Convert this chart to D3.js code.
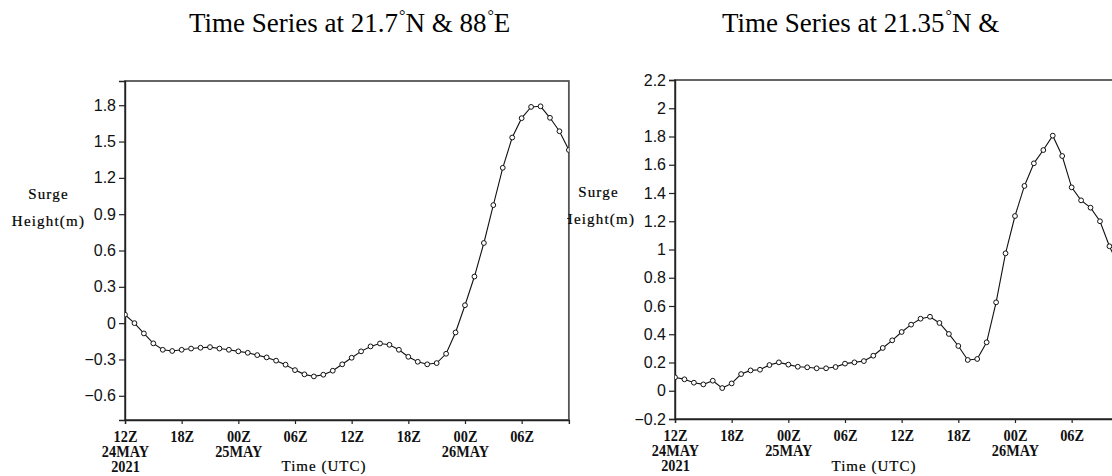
<!DOCTYPE html>
<html><head><meta charset="utf-8">
<script src="https://cdn.jsdelivr.net/npm/d3@7"></script>
<style>
body{margin:0;background:#fff;}
svg{display:block;}
</style></head>
<body>
<svg id="c" width="1112" height="476"></svg>
<script>
// ---- data ----
const hours = d3.range(0, 48);
const surgeA = [0.07,0.0,-0.085,-0.167,-0.22,-0.23,-0.22,-0.21,-0.203,-0.198,-0.21,-0.22,
  -0.233,-0.245,-0.264,-0.283,-0.31,-0.343,-0.388,-0.423,-0.44,-0.426,-0.393,-0.34,
  -0.286,-0.233,-0.192,-0.168,-0.179,-0.22,-0.278,-0.319,-0.34,-0.33,-0.253,-0.077,
  0.148,0.385,0.662,0.975,1.283,1.533,1.693,1.786,1.791,1.696,1.585,1.43];
const surgeB = [0.095,0.081,0.057,0.045,0.071,0.019,0.052,0.118,0.144,0.149,0.182,0.201,
  0.185,0.17,0.166,0.159,0.159,0.168,0.192,0.201,0.21,0.248,0.303,0.357,
  0.416,0.468,0.51,0.524,0.48,0.402,0.317,0.218,0.225,0.343,0.626,0.973,
  1.237,1.45,1.61,1.704,1.806,1.662,1.44,1.348,1.296,1.2,1.023,0.88];
const titles = ["Time Series at 21.7|°|N & 88|°|E", "Time Series at 21.35|°|N &"];
const xTickHours = [0,6,12,18,24,30,36,42];
const xTickLabels = [["12Z","24MAY","2021"],["18Z"],["00Z","25MAY"],["06Z"],["12Z"],["18Z"],["00Z","26MAY"],["06Z"]];
const yTicksA = [-0.6,-0.3,0,0.3,0.6,0.9,1.2,1.5,1.8];
const yLabelsA = ["\u22120.6","\u22120.3","0","0.3","0.6","0.9","1.2","1.5","1.8"];
const yTicksB = [-0.2,0,0.2,0.4,0.6,0.8,1,1.2,1.4,1.6,1.8,2,2.2];
const yLabelsB = ["\u22120.2","0","0.2","0.4","0.6","0.8","1","1.2","1.4","1.6","1.8","2","2.2"];
const yLabel = ["Surge","Height(m)"];
const xLabel = "Time (UTC)";

const svg = d3.select("#c");

const panels = [
  {vals: surgeA, title: titles[0], titleX: 189, x0: 125, y0: 81, y1: 420, dom: [-0.8, 2.0], yt: yTicksA, yl: yLabelsA, ylabX: 48.5, ylabY: 199, xlabX: 324, clipX: 0},
  {vals: surgeB, title: titles[1], titleX: 722, x0: 675, y0: 80, y1: 419, dom: [-0.2, 2.2], yt: yTicksB, yl: yLabelsB, ylabX: 598.5, ylabY: 197, xlabX: 874, clipX: 567}
];

const defs = svg.append("defs");
const serifMono = {family: "Liberation Serif, Times New Roman, serif", size: 15, ls: 1.2};

panels.forEach((p, i) => {
  const x = d3.scaleLinear().domain([0, 47]).range([p.x0, p.x0 + 47 * 9.444]);
  const y = d3.scaleLinear().domain(p.dom).range([p.y1, p.y0]);
  const xR = x(47);

  const g = svg.append("g");

  // title
  const parts = p.title.split("|");
  const t = g.append("text").attr("x", p.titleX).attr("y", 32)
    .attr("font-family", "Liberation Serif, Times New Roman, serif").attr("font-size", 27).attr("fill", "#000");
  let shiftBack = false;
  parts.forEach(s => {
    if (s === "°") {
      t.append("tspan").attr("font-size", 16).attr("dy", -11).attr("dx", 1).text("°");
      shiftBack = true;
    } else {
      const ts = t.append("tspan").text(s);
      if (shiftBack) { ts.attr("dy", 11).attr("dx", 0); shiftBack = false; }
    }
  });

  // y axis label
  const lc = "clipLab" + i;
  defs.append("clipPath").attr("id", lc).append("rect").attr("x", p.clipX).attr("y", 0).attr("width", 1112).attr("height", 476);
  const yl = g.append("g").attr("clip-path", `url(#${lc})`);
  yLabel.forEach((s, k) => {
    yl.append("text").attr("x", p.ylabX).attr("y", p.ylabY + k * 27)
      .attr("text-anchor", "middle").attr("font-family", serifMono.family)
      .attr("font-size", serifMono.size).attr("letter-spacing", serifMono.ls).attr("fill", "#000")
      .attr("stroke", "#000").attr("stroke-width", 0.2)
      .text(s);
  });

  // frame (top/right gray)
  g.append("rect").attr("x", p.x0).attr("y", p.y0).attr("width", xR - p.x0).attr("height", p.y1 - p.y0)
    .attr("fill", "none").attr("stroke", "#555").attr("stroke-width", 1.8);

  // y axis
  const ya = g.append("g").attr("transform", `translate(${p.x0},0)`)
    .call(d3.axisLeft(y).tickValues(p.yt).tickSize(6).tickPadding(3)
      .tickFormat((d, j) => p.yl[j]));
  ya.select(".domain").attr("stroke", "#222").attr("stroke-width", 1.4);
  ya.selectAll(".tick line").attr("stroke", "#222").attr("stroke-width", 1.2);
  ya.selectAll(".tick text").attr("font-family", "Liberation Sans, Arial, sans-serif").attr("font-size", 16).attr("fill", "#111");

  // x axis
  const xa = g.append("g").attr("transform", `translate(0,${p.y1})`)
    .call(d3.axisBottom(x).tickValues(xTickHours).tickSize(4).tickFormat(""));
  xa.select(".domain").attr("stroke", "#222").attr("stroke-width", 1.4);
  xa.selectAll(".tick line").attr("stroke", "#222").attr("stroke-width", 1.2);
  xa.selectAll(".tick").each(function(d, j) {
    const tt = d3.select(this).append("text").attr("fill", "#111")
      .attr("font-family", "Liberation Serif, Times New Roman, serif").attr("font-weight", "bold")
      .attr("font-size", 17.5).attr("text-anchor", "middle")
      .attr("transform", "scale(0.82,1)");
    xTickLabels[j].forEach((s, k) => {
      tt.append("tspan").attr("x", 0).attr("y", 22.5 + k * 15).text(s);
    });
  });

  g.append("text").attr("x", p.xlabX).attr("y", 471).attr("text-anchor", "middle")
    .attr("font-family", serifMono.family).attr("font-size", serifMono.size).attr("letter-spacing", 1)
    .attr("fill", "#000").attr("stroke", "#000").attr("stroke-width", 0.2).text(xLabel);

  // data
  const cid = "clipPlot" + i;
  defs.append("clipPath").attr("id", cid).append("rect").attr("x", p.x0).attr("y", p.y0).attr("width", xR - p.x0).attr("height", p.y1 - p.y0);
  const pg = g.append("g").attr("clip-path", `url(#${cid})`);
  const line = d3.line().x((d, j) => x(hours[j])).y(d => y(d));
  pg.append("path").datum(p.vals).attr("d", line).attr("fill", "none").attr("stroke", "#111").attr("stroke-width", 1.1);
  pg.selectAll("circle").data(p.vals).join("circle")
    .attr("cx", (d, j) => x(hours[j])).attr("cy", d => y(d)).attr("r", 2.4)
    .attr("fill", "#fff").attr("stroke", "#111").attr("stroke-width", 1);
});
</script>
</body></html>
